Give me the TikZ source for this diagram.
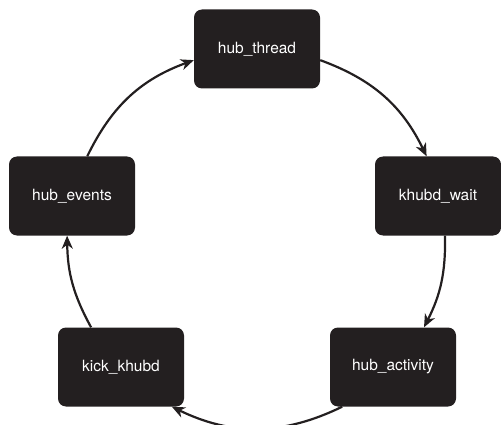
\documentclass[tikz,border=0pt]{standalone}
\usepackage{xcolor}
\usepackage{tikz}
\usepackage{fontspec}
\setmainfont{TeX Gyre Heros}
\definecolor{boxblack}{RGB}{35,31,32}
\usetikzlibrary{arrows.meta,positioning}

\begin{document}
\begin{tikzpicture}[
    x=1pt, y=1pt,
    box/.style={rectangle, rounded corners=8pt, minimum width=126pt, minimum height=79pt, text centered, fill=boxblack, text=white, font=\fontsize{15.5}{18}\selectfont},
    arrow/.style={-{Stealth[length=13pt,width=11pt,inset=4pt]}, line width=2.2pt, draw=boxblack}
]
\useasboundingbox (0,0) rectangle (501,-425);

\node[box] (thread) at (257,-49) {hub\_thread};
\node[box] (wait) at (438,-196) {khubd\_wait};
\node[box] (activity) at (393,-367) {hub\_activity};
\node[box] (kick) at (121,-367) {kick\_khubd};
\node[box] (events) at (72,-196) {hub\_events};

\draw[arrow] (thread.-10) to[bend left=22] (wait.106);
\draw[arrow] (wait.-80) to[bend left=14] (activity.52);
\draw[arrow] (activity.-142) to[bend left=26] (kick.-38);
\draw[arrow] (kick.127) to[bend left=14] (events.-97);
\draw[arrow] (events.69) to[bend left=22] (thread.190);

\end{tikzpicture}
\end{document}
